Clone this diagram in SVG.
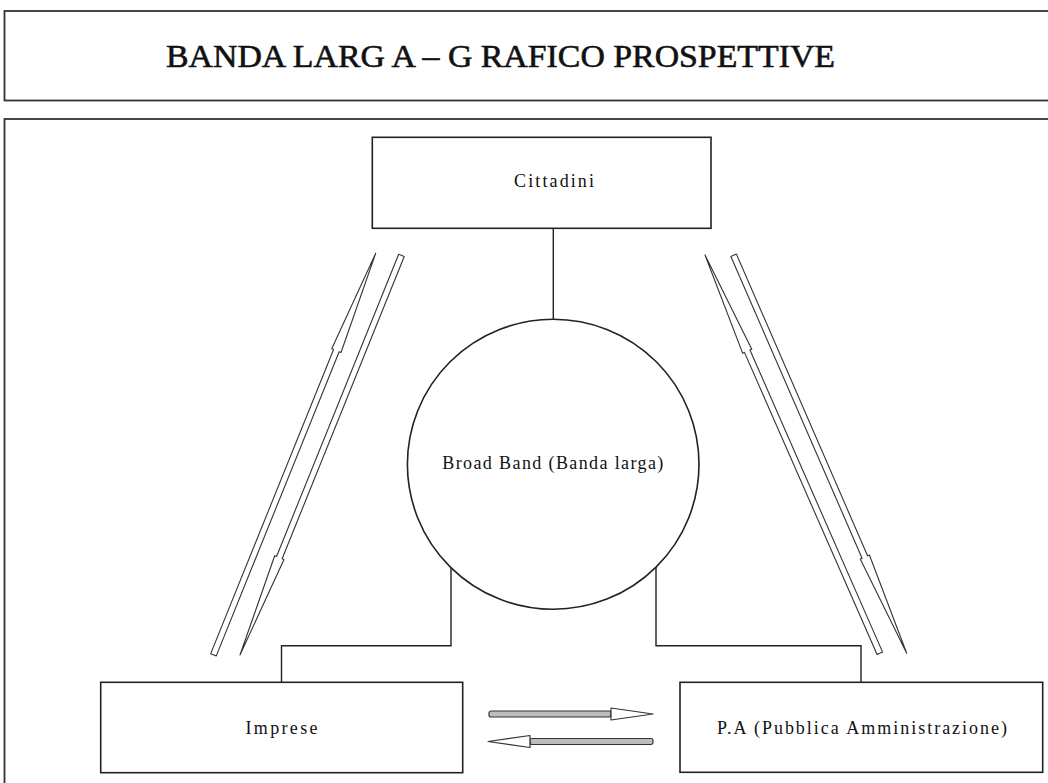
<svg xmlns="http://www.w3.org/2000/svg" width="1048" height="783" viewBox="0 0 1048 783">
<style>
.box{fill:#fff;stroke:#222;stroke-width:1.6}
.frame{fill:#fff;stroke:#333;stroke-width:1.8}
.lbl{font-family:"Liberation Serif","DejaVu Serif",serif;font-size:18px;fill:#111;text-anchor:middle}
.ttl{font-family:"Liberation Serif","DejaVu Serif",serif;font-size:32px;fill:#111;stroke:#111;stroke-width:0.6;text-anchor:middle}
.ln{fill:none;stroke:#222;stroke-width:1.4}
.arr{fill:#fff;stroke:#333;stroke-width:1.1;stroke-linejoin:round}
.arrb{fill:#fff;stroke:#333;stroke-width:1.2;stroke-linejoin:round}
.shaft{fill:#bdbdbd;stroke:#333;stroke-width:1.2;stroke-linejoin:round}
</style>
<rect width="1048" height="783" fill="#fff"/>
<g id="title">
<rect class="frame" x="4.5" y="11" width="1060" height="89.5"/>
<text class="ttl" x="500.5" y="67" textLength="669" lengthAdjust="spacingAndGlyphs">BANDA LARG A – G RAFICO PROSPETTIVE</text>
</g>
<g id="frame">
<rect class="frame" x="4.5" y="119" width="1060" height="700"/>
</g>
<g id="connectors">
<line class="ln" x1="553.3" y1="228.3" x2="553.3" y2="319"/>
<polyline class="ln" points="451,566 451,645.7 281.5,645.7 281.5,682.3"/>
<polyline class="ln" points="656,566 656,645.7 861,645.7 861,682.3"/>
<polygon class="arr" transform="translate(375.7,253.3) rotate(112)" points="0,0 105,-5 105,-3 433,-3 433,3 105,3 105,5"/>
<polygon class="arr" transform="translate(240,655) rotate(-68)" points="0,0 105,-5 105,-3 431,-3 431,3 105,3 105,5"/>
<polygon class="arr" transform="translate(705,255) rotate(66.3)" points="0,0 105,-5 105,-3 435,-3 435,3 105,3 105,5"/>
<polygon class="arr" transform="translate(906.7,653.3) rotate(-113.5)" points="0,0 105,-5 105,-3 434,-3 434,3 105,3 105,5"/>
<g transform="translate(653,714) rotate(180)">
<rect class="shaft" x="42" y="-3" width="122" height="6" rx="2"/>
<polygon class="arrb" points="0,0 42,-6 42,6"/>
</g>
<g transform="translate(488,741.5)">
<rect class="shaft" x="42" y="-3" width="123" height="6" rx="2"/>
<polygon class="arrb" points="0,0 42,-6 42,6"/>
</g>
</g>
<g id="cittadini">
<rect class="box" x="372.3" y="137.3" width="338.7" height="91"/>
<text class="lbl" x="554" y="187" textLength="80" lengthAdjust="spacing">Cittadini</text>
</g>
<g id="broadband">
<ellipse class="box" cx="553.2" cy="464.3" rx="145.8" ry="145"/>
<text class="lbl" x="552.8" y="469" textLength="221" lengthAdjust="spacing">Broad Band (Banda larga)</text>
</g>
<g id="imprese">
<rect class="box" x="100.7" y="682.3" width="362" height="90.4"/>
<text class="lbl" x="281.5" y="734" textLength="72" lengthAdjust="spacing">Imprese</text>
</g>
<g id="pa">
<rect class="box" x="680" y="682.3" width="362.7" height="90"/>
<text class="lbl" x="862" y="734" textLength="290" lengthAdjust="spacing">P.A (Pubblica Amministrazione)</text>
</g>
</svg>
